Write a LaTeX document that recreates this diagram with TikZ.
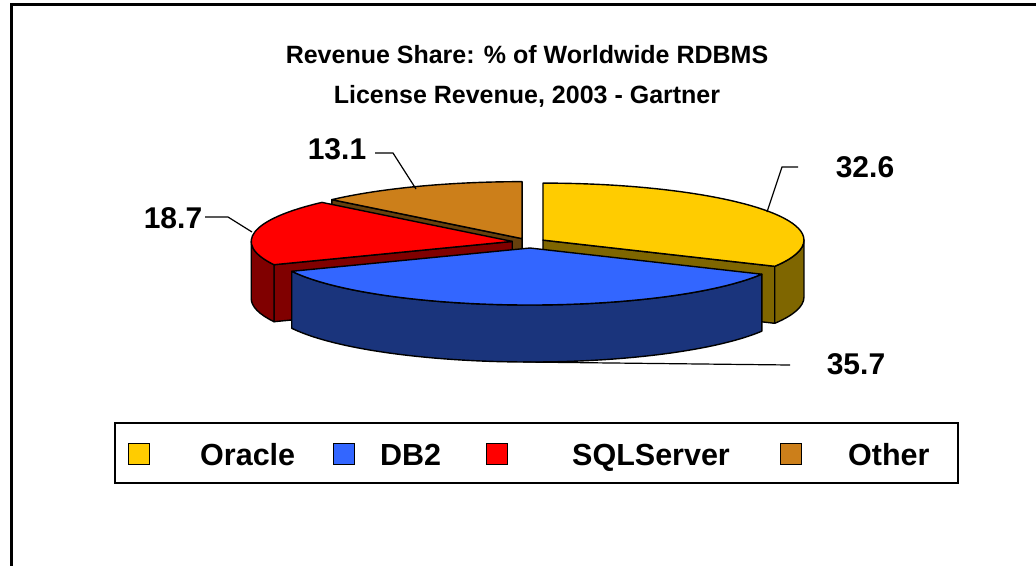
\documentclass[tikz,border=0pt]{standalone}
\usepackage{fontspec}
\setmainfont{Liberation Sans}
\definecolor{oraTop}{HTML}{FFCC00}
\definecolor{oraWall}{HTML}{7F6600}
\definecolor{dbTop}{HTML}{3366FF}
\definecolor{dbWall}{HTML}{1A347C}
\definecolor{sqlTop}{HTML}{FF0000}
\definecolor{sqlWall}{HTML}{800000}
\definecolor{othTop}{HTML}{CC7F1A}
\definecolor{othWall}{HTML}{66400D}
\tikzset{
  face/.style={draw=black, line width=1.4pt, line join=round},
  lbl/.style={font=\fontsize{30}{36}\selectfont\bfseries, inner sep=0pt},
  ttl/.style={font=\fontsize{25}{30}\selectfont\bfseries, inner sep=0pt},
  leader/.style={draw=black, line width=1.2pt},
  swatch/.style={draw=black, line width=1pt, minimum width=21pt, minimum height=21pt, inner sep=0pt},
  legtxt/.style={font=\fontsize{30.5}{36}\selectfont\bfseries, inner sep=0pt, anchor=base west},
}
\begin{document}
\begin{tikzpicture}[x=1pt,y=1pt]
\useasboundingbox (0,0) rectangle (1036,-566);
% frame
\draw[line width=3pt] (1036,-4) -- (11,-4) -- (11,-566);
% title
\node[ttl] (t1) at (527,-55) {Revenue Share: \% of Worldwide RDBMS};
\node[ttl] (t2) at (527,-96) {License Revenue, 2003 - Gartner};
% apex points
\coordinate (apO) at (542.97,-240.1);
\coordinate (apD) at (530,-248);
\coordinate (apS) at (512.2,-241.4);
\coordinate (apT) at (522.07,-238.65);
\def\ra{261}\def\rb{57}\def\dp{57}
% ---- Other
\begin{scope}[shift={(apT)}]
  \fill[othWall, face] (0,0) -- ({\ra*cos(136.8)},{\rb*sin(136.8)}) -- ({\ra*cos(136.8)},{\rb*sin(136.8)-\dp}) -- (0,-\dp) -- cycle;
  \fill[othTop, face] (0,0) -- ({\ra*cos(136.8)},{\rb*sin(136.8)}) arc[start angle=136.8, end angle=90, x radius=\ra pt, y radius=\rb pt] -- cycle;
\end{scope}
% ---- Oracle
\begin{scope}[shift={(apO)}]
  \fill[oraWall, face] (0,0) -- ({\ra*cos(-27.36)},{\rb*sin(-27.36)}) -- ({\ra*cos(-27.36)},{\rb*sin(-27.36)-\dp}) -- (0,-\dp) -- cycle;
  \fill[oraWall, face] (\ra,0) arc[start angle=0, end angle=-27.36, x radius=\ra pt, y radius=\rb pt] -- ++(0,-\dp) arc[start angle=-27.36, end angle=0, x radius=\ra pt, y radius=\rb pt] -- cycle;
  \fill[oraTop, face] (0,0) -- (0,\rb) arc[start angle=90, end angle=-27.36, x radius=\ra pt, y radius=\rb pt] -- cycle;
\end{scope}
% ---- SQLServer
\begin{scope}[shift={(apS)}]
  \fill[sqlWall, face] (0,0) -- ({\ra*cos(-155.88)},{\rb*sin(-155.88)}) -- ({\ra*cos(-155.88)},{\rb*sin(-155.88)-\dp}) -- (0,-\dp) -- cycle;
  \fill[sqlWall, face] ({\ra*cos(-155.88)},{\rb*sin(-155.88)}) arc[start angle=-155.88, end angle=-180, x radius=\ra pt, y radius=\rb pt] -- ++(0,-\dp) arc[start angle=-180, end angle=-155.88, x radius=\ra pt, y radius=\rb pt] -- cycle;
  \fill[sqlTop, face] (0,0) -- ({\ra*cos(-155.88)},{\rb*sin(-155.88)}) arc[start angle=-155.88, end angle=-223.2, x radius=\ra pt, y radius=\rb pt] -- cycle;
\end{scope}
% ---- DB2
\begin{scope}[shift={(apD)}]
  \fill[dbWall, face] ({\ra*cos(-27.36)},{\rb*sin(-27.36)}) arc[start angle=-27.36, end angle=-155.88, x radius=\ra pt, y radius=\rb pt] -- ++(0,-\dp) arc[start angle=-155.88, end angle=-27.36, x radius=\ra pt, y radius=\rb pt] -- cycle;
  \fill[dbTop, face] (0,0) -- ({\ra*cos(-27.36)},{\rb*sin(-27.36)}) arc[start angle=-27.36, end angle=-155.88, x radius=\ra pt, y radius=\rb pt] -- cycle;
\end{scope}
% ---- labels and leaders
\node[lbl] (l326) at (865,-167) {32.6};
\node[lbl] (l357) at (856,-364) {35.7};
\node[lbl] (l187) at (173,-218) {18.7};
\node[lbl] (l131) at (337,-149) {13.1};
\coordinate (k326) at (798,-167);
\coordinate (e326) at (767,-212);
\coordinate (k357) at (790,-365);
\coordinate (e357) at (523,-362);
\coordinate (k187) at (205,-217);
\coordinate (e187) at (252,-232);
\coordinate (k131) at (375,-153);
\coordinate (e131) at (416,-189);
\draw[leader] (k326) -- ++(-16,0) -- (e326);
\draw[leader] (k357) -- (e357);
\draw[leader] (k187) -- ++(23,0) -- (e187);
\draw[leader] (k131) -- ++(18,0) -- (e131);
% ---- legend
\node[draw=black, line width=2pt, minimum width=843pt, minimum height=60pt, inner sep=0pt] (legend) at (536.5,-453) {};
\node[swatch, fill=oraTop] (sq1) at (139,-454) {};
\node[swatch, fill=dbTop] (sq2) at (344,-454) {};
\node[swatch, fill=sqlTop] (sq3) at (497,-454) {};
\node[swatch, fill=othTop] (sq4) at (791,-454) {};
\node[legtxt] (lg1) at (200,-465) {Oracle};
\node[legtxt] (lg2) at (380,-465) {DB2};
\node[legtxt] (lg3) at (572,-465) {SQLServer};
\node[legtxt] (lg4) at (848,-465) {Other};
\end{tikzpicture}
\end{document}
